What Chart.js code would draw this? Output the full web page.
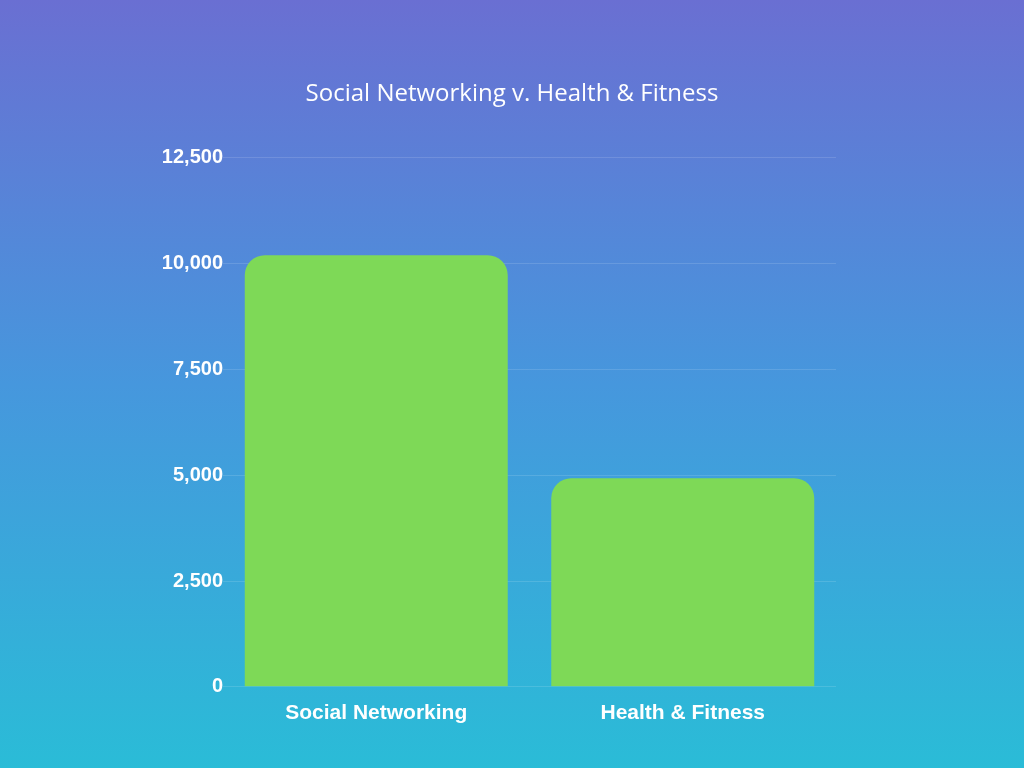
<!DOCTYPE html>
<html>
<head>
<meta charset="utf-8">
<script src="https://cdn.jsdelivr.net/npm/chart.js@4/dist/chart.umd.min.js"></script>
<style>
html,body{margin:0;padding:0;background:#4a95db;}
#wrap{width:1024px;height:768px;position:relative;}
</style>
</head>
<body>
<div id="wrap"><canvas id="c" width="1024" height="768"></canvas></div>
<script>
const categories = ["Social Networking", "Health & Fitness"];
const values = [10200, 4930];
const yTicks = [0, 2500, 5000, 7500, 10000, 12500];
const chartTitle = "Social Networking v. Health & Fitness";

const bgPlugin = {
  id: 'bg',
  beforeDraw(chart) {
    const ctx = chart.ctx;
    const h = chart.height, w = chart.width;
    const g = ctx.createLinearGradient(0, 0, 0, h);
    g.addColorStop(0, '#6a6fd2');
    g.addColorStop(0.5, '#4697dd');
    g.addColorStop(1, '#2abcd7');
    ctx.save();
    ctx.fillStyle = g;
    ctx.fillRect(0, 0, w, h);
    ctx.restore();
  }
};

new Chart(document.getElementById('c'), {
  type: 'bar',
  data: {
    labels: categories,
    datasets: [{
      data: values,
      backgroundColor: '#7ed957',
      borderRadius: {topLeft: 20, topRight: 20, bottomLeft: 0, bottomRight: 0},
      borderSkipped: 'bottom',
      categoryPercentage: 1.0,
      barPercentage: 0.858
    }]
  },
  options: {
    responsive: false,
    animation: false,
    devicePixelRatio: 1,
    layout: { padding: { left: 0, right: 0, top: 0, bottom: 36 } },
    plugins: {
      legend: { display: false },
      tooltip: { enabled: false },
      title: {
        display: true,
        text: chartTitle,
        color: '#ffffff',
        font: { family: 'Open Sans', size: 24, weight: 'normal' },
        padding: { top: 80, bottom: 49 }
      }
    },
    scales: {
      x: {
        grid: { display: false },
        border: { display: false },
        ticks: {
          color: '#ffffff',
          font: { family: 'Liberation Sans', size: 21, weight: 'bold' },
          padding: 6
        }
      },
      y: {
        min: 0,
        max: 12500,
        afterBuildTicks(scale) { scale.ticks = yTicks.map(v => ({ value: v })); },
        afterFit(scale) { scale.width = 223; },
        grid: { color: 'rgba(255,255,255,0.13)', lineWidth: 1, drawTicks: false },
        border: { display: false },
        ticks: {
          color: '#ffffff',
          font: { family: 'Liberation Sans', size: 20, weight: 'bold' },
          padding: 0,
          callback: v => v.toLocaleString('en-US')
        }
      },
      yRight: {
        position: 'right',
        min: 0,
        max: 12500,
        grid: { display: false },
        border: { display: false },
        ticks: { display: false },
        afterFit(scale) { scale.width = 188; }
      }
    }
  },
  plugins: [bgPlugin]
});
</script>
</body>
</html>
